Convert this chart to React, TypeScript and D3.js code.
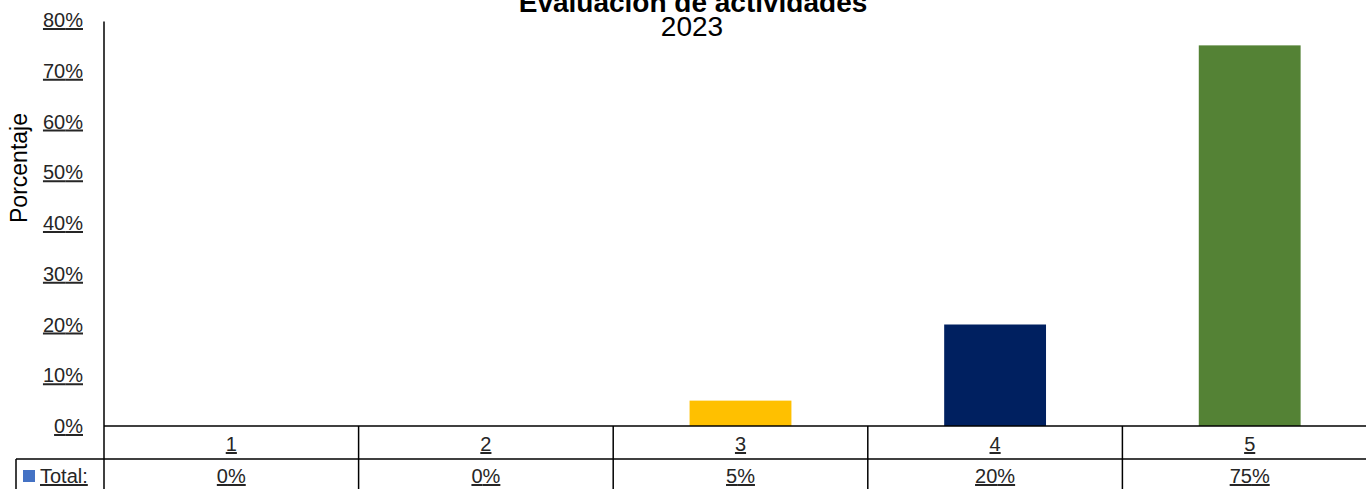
import React from "react";
import * as d3 from "d3";

const categories = ["1", "2", "3", "4", "5"];
const values = [0, 0, 5, 20, 75];
const barColors = ["#4472C4", "#ED7D31", "#FFC000", "#002060", "#548235"];
const yTicks = [0, 10, 20, 30, 40, 50, 60, 70, 80];
const titleLines = ["Evaluación de actividades", "2023"];
const yTitle = "Porcentaje";
const seriesName = "Total:";

const W = 1366;
const H = 489;
const left = 104;
const right = 1377;
const top = 20;
const zeroY = 426;
const row1 = 459;
const font = "'Liberation Sans', Arial, sans-serif";
const textColor = "#262626";

export default function App() {
  const x = d3.scaleBand<string>().domain(categories).range([left, right]).paddingInner(0).paddingOuter(0);
  const y = d3.scaleLinear().domain([0, 80]).range([zeroY, top]);
  const bw = x.bandwidth() * 0.4;
  return (
    <svg width={W} height={H} style={{ position: "absolute", left: 0, top: 0, background: "#fff" }} fontFamily={font}>
      <text x={693} y={12} textAnchor="middle" fontSize={28} fontWeight="bold" fill="#000">{titleLines[0]}</text>
      <text x={692} y={36} textAnchor="middle" fontSize={28} fill="#000">{titleLines[1]}</text>
      <text transform={`translate(27,168) rotate(-90)`} textAnchor="middle" fontSize={23} fill="#000">{yTitle}</text>
      {yTicks.map((t) => (
        <text key={t} x={83} y={y(t) + 7} textAnchor="end" fontSize={20} fill={textColor} textDecoration="underline">{t}%</text>
      ))}
      {categories.map((c, i) => (
        <rect key={c} x={(x(c) as number) + (x.bandwidth() - bw) / 2} y={y(values[i])} width={bw} height={zeroY - y(values[i])} fill={barColors[i]} />
      ))}
      <line x1={left} x2={left} y1={21.5} y2={H} stroke="#000" strokeWidth={1.5} />
      <line x1={left} x2={W} y1={zeroY} y2={zeroY} stroke="#000" strokeWidth={1.5} />
      <line x1={16} x2={W} y1={row1} y2={row1} stroke="#000" strokeWidth={1.5} />
      <line x1={16} x2={16} y1={row1} y2={H} stroke="#000" strokeWidth={1.5} />
      {categories.slice(1).map((c) => (
        <line key={c} x1={x(c) as number} x2={x(c) as number} y1={zeroY} y2={H} stroke="#000" strokeWidth={1.5} />
      ))}
      {categories.map((c, i) => (
        <g key={c}>
          <text x={(x(c) as number) + x.bandwidth() / 2} y={451} textAnchor="middle" fontSize={20} fill={textColor} textDecoration="underline">{c}</text>
          <text x={(x(c) as number) + x.bandwidth() / 2} y={483} textAnchor="middle" fontSize={20} fill={textColor} textDecoration="underline">{values[i]}%</text>
        </g>
      ))}
      <rect x={23} y={470} width={12} height={12} fill="#4472C4" />
      <text x={40} y={483} fontSize={20} fill={textColor} textDecoration="underline">{seriesName}</text>
    </svg>
  );
}
